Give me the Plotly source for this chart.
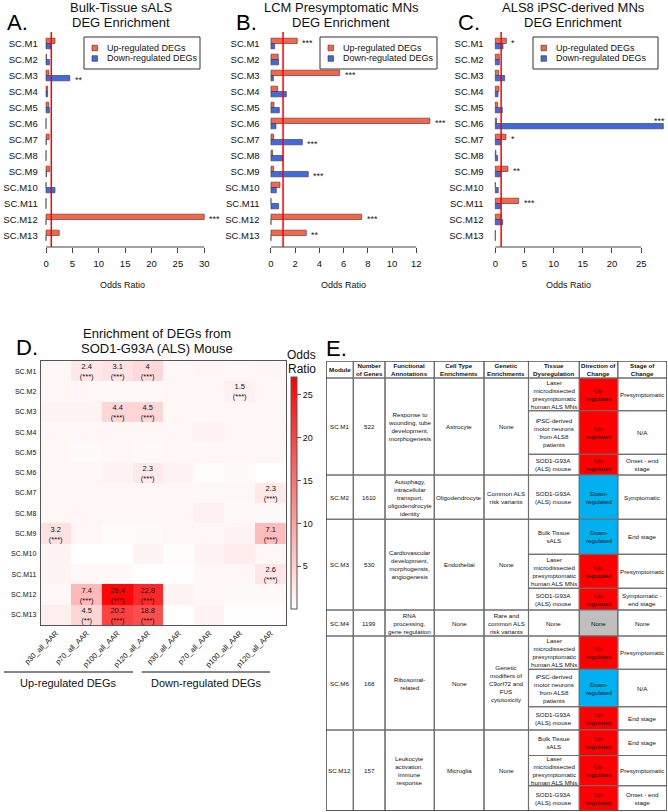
import plotly.graph_objects as go

W, H = 668, 812
FONT = "Liberation Sans, Arial, Helvetica, sans-serif"

# ---------------- data ----------------
modules = ["SC.M1", "SC.M2", "SC.M3", "SC.M4", "SC.M5", "SC.M6", "SC.M7",
           "SC.M8", "SC.M9", "SC.M10", "SC.M11", "SC.M12", "SC.M13"]

# A. Bulk-tissue sALS
bulk_up = [1.7, 0.1, 0.55, 0.3, 0.5, 0.0, 0.6, 0.0, 0.7, 0.0, 0.0, 30.0, 2.5]
bulk_down = [0.95, 0.65, 4.5, 0.3, 0.65, 0.0, 0.05, 0.0, 0.1, 1.7, 0.0, 0.0, 0.0]
bulk_up_sig = ["", "", "", "", "", "", "", "", "", "", "", "***", ""]
bulk_down_sig = ["", "", "**", "", "", "", "", "", "", "", "", "", ""]

# B. LCM presymptomatic MNs
lcm_up = [2.17, 0.6, 5.67, 0.55, 0.25, 13.13, 0.22, 0.14, 0.22, 0.74, 0.0, 7.49, 2.92]
lcm_down = [0.3, 0.63, 0.2, 1.27, 0.69, 0.41, 2.59, 0.99, 3.08, 0.44, 0.63, 0.0, 0.0]
lcm_up_sig = ["***", "", "***", "", "", "***", "", "", "", "", "", "***", "**"]
lcm_down_sig = ["", "", "", "", "", "", "***", "", "***", "", "", "", ""]

# C. ALS8 iPSC-derived MNs
ipsc_up = [1.89, 0.69, 0.57, 0.63, 0.4, 0.23, 1.83, 0.11, 2.17, 0.0, 4.0, 0.92, 0.0]
ipsc_down = [1.32, 0.69, 1.6, 0.46, 1.2, 28.8, 0.92, 0.4, 0.92, 0.51, 0.92, 1.26, 0.0]
ipsc_up_sig = ["*", "", "", "", "", "", "*", "", "**", "", "***", "", ""]
ipsc_down_sig = ["", "", "", "", "", "***", "", "", "", "", "", "", ""]

# D. SOD1-G93A mouse heatmap (4 up-regulated then 4 down-regulated DEG sets)
mouse_columns = ["p30_all_AAR", "p70_all_AAR", "p100_all_AAR", "p120_all_AAR",
                 "p30_all_AAR", "p70_all_AAR", "p100_all_AAR", "p120_all_AAR"]
mouse_odds = [
    [1.0, 2.4, 3.1, 4.0, 1.0, 1.1, 1.0, 1.1],
    [1.0, 0.9, 0.6, 0.7, 1.0, 1.0, 1.5, 1.0],
    [1.2, 1.2, 4.4, 4.5, 1.0, 1.0, 0.9, 1.0],
    [1.0, 0.8, 0.9, 0.9, 1.0, 1.3, 1.0, 1.0],
    [1.0, 0.5, 0.9, 0.6, 1.0, 1.0, 1.0, 1.0],
    [1.0, 1.0, 1.3, 2.3, 1.3, 0.3, 0.5, 0.1],
    [1.0, 1.0, 1.0, 1.0, 1.0, 0.9, 1.0, 2.3],
    [1.0, 0.9, 0.9, 1.0, 0.9, 1.5, 0.6, 0.5],
    [3.2, 1.0, 0.4, 0.5, 0.9, 0.9, 1.3, 7.1],
    [1.2, 0.0, 0.0, 1.2, 0.3, 1.3, 2.0, 1.0],
    [1.2, 0.7, 0.7, 0.2, 0.2, 1.0, 0.8, 2.6],
    [0.8, 7.4, 26.4, 22.8, 1.2, 0.8, 0.5, 0.6],
    [1.8, 4.5, 20.2, 18.8, 0.1, 1.3, 0.2, 0.2],
]
mouse_sig = [
    ["", "***", "***", "***", "", "", "", ""],
    ["", "", "", "", "", "", "***", ""],
    ["", "", "***", "***", "", "", "", ""],
    ["", "", "", "", "", "", "", ""],
    ["", "", "", "", "", "", "", ""],
    ["", "", "", "***", "", "", "", ""],
    ["", "", "", "", "", "", "", "***"],
    ["", "", "", "", "", "", "", ""],
    ["***", "", "", "", "", "", "", "***"],
    ["", "", "", "", "", "", "", ""],
    ["", "", "", "", "", "", "", "***"],
    ["", "***", "***", "***", "", "", "", ""],
    ["", "**", "***", "***", "", "", "", ""],
]

# E. summary table
tbl_header = ["Module", "Number<br>of Genes", "Functional<br>Annotations", "Cell Type<br>Enrichments",
              "Genetic<br>Enrichments", "Tissue<br>Dysregulation", "Direction of<br>Change", "Stage of<br>Change"]
tbl_module = ["SC.M1", "SC.M2", "SC.M3", "SC.M4", "SC.M6", "SC.M12"]
tbl_ngenes = ["522", "1610", "530", "1199", "168", "157"]
tbl_function = ["Response to<br>wounding, tube<br>development,<br>morphogenesis",
                "Autophagy,<br>intracellular<br>transport,<br>oligodendrocyte<br>identity",
                "Cardiovascular<br>development,<br>morphogensis,<br>angiogenesis",
                "RNA<br>processing,<br>gene regulation",
                "Ribosomal-<br>related",
                "Leukocyte<br>activation,<br>immune<br>response"]
tbl_celltype = ["Astrocyte", "Oligodendrocyte", "Endothelial", "None", "None", "Microglia"]
tbl_genetic = ["None", "Common ALS<br>risk variants", "None", "Rare and<br>common ALS<br>risk variants",
               "Genetic<br>modifiers of<br>C9orf72 and<br>FUS<br>cytotoxicity", "None"]
LCM = "Laser<br>microdissected<br>presymptomatic<br>human ALS MNs"
IPSC = "iPSC-derived<br>motor neurons<br>from ALS8<br>patients"
SOD = "SOD1-G93A<br>(ALS) mouse"
BULK = "Bulk Tissue<br>sALS"
tbl_tissue = [[LCM, IPSC, SOD], [SOD], [BULK, LCM, SOD], ["None"], [LCM, IPSC, SOD], [BULK, LCM, SOD]]
tbl_direction = [["Up", "Up", "Up"], ["Down"], ["Down", "Up", "Up"], ["None"],
                 ["Up", "Down", "Up"], ["Up", "Up", "Up"]]
tbl_stage = [["Presymptomatic", "N/A", "Onset - end<br>stage"], ["Symptomatic"],
             ["End stage", "Presymptomatic", "Symptomatic -<br>end stage"], ["None"],
             ["Presymptomatic", "N/A", "End stage"], ["End stage", "Presymptomatic", "Onset - end<br>stage"]]

# ---------------- styling / layout constants ----------------
UP_COLOR = "#FF6347"
DOWN_COLOR = "#4169E1"
DIR_FILL = {"Up": "#FF0000", "Down": "#00B0F0", "None": "#BFBFBF"}
DIR_TEXT = {"Up": "Up-<br>regulated", "Down": "Down-<br>regulated", "None": "None"}

tbl_col_w = [27.3, 31.7, 49.3, 49.7, 44.5, 50.8, 38.5, 49.2]
tbl_header_h = 17
tbl_sub_h = [[32.7, 43.6, 20.7], [44.3], [35, 34, 21.7], [26], [33.3, 37.4, 23.3], [25.5, 30.2, 25]]


def px(x):
    return x / W


def py(y):
    return 1 - y / H


def note(x, y, text, size, xanchor="center", color="#111111", **kw):
    return dict(x=px(x), y=py(y), xref="paper", yref="paper", text=text, showarrow=False,
                xanchor=xanchor, yanchor="middle", font=dict(size=size, color=color), **kw)


fig = go.Figure()
annotations = []
shapes = []
layout = {}

bar_panels = [
    dict(up=bulk_up, down=bulk_down, up_sig=bulk_up_sig, down_sig=bulk_down_sig,
         dom=(39.7, 210.6), rng=[-1.2, 31.2], ticks=[0, 5, 10, 15, 20, 25, 30],
         title=["Bulk-Tissue sALS", "DEG Enrichment"], tcx=121, letter="A.", lx=5,
         leg=(84, 37, 200, 69), standoff=1, xt=122),
    dict(up=lcm_up, down=lcm_down, up_sig=lcm_up_sig, down_sig=lcm_down_sig,
         dom=(264.6, 436.5), rng=[-0.526, 13.676], ticks=[0, 2, 4, 6, 8, 10, 12],
         title=["LCM Presymptomatic MNs", "DEG Enrichment"], tcx=341, letter="B.", lx=234,
         leg=(320, 37, 437, 69), standoff=4, xt=343),
    dict(up=ipsc_up, down=ipsc_down, up_sig=ipsc_up_sig, down_sig=ipsc_down_sig,
         dom=(488.6, 668), rng=[-1.15, 29.6], ticks=[0, 5, 10, 15, 20, 25],
         title=["ALS8 iPSC-derived MNs", "DEG Enrichment"], tcx=573, letter="C.", lx=456,
         leg=(533, 37, 658, 69), standoff=4, xt=568),
]

for i, p in enumerate(bar_panels, start=1):
    xr = "x" if i == 1 else f"x{i}"
    yr = "y" if i == 1 else f"y{i}"
    xk = "xaxis" if i == 1 else f"xaxis{i}"
    yk = "yaxis" if i == 1 else f"yaxis{i}"
    fig.add_trace(go.Bar(x=p["up"], y=modules, orientation="h", name="Up-regulated DEGs",
                         marker=dict(color=UP_COLOR, line=dict(color="#333333", width=0.6)),
                         xaxis=xr, yaxis=yr, showlegend=False))
    fig.add_trace(go.Bar(x=p["down"], y=modules, orientation="h", name="Down-regulated DEGs",
                         marker=dict(color=DOWN_COLOR, line=dict(color="#333333", width=0.6)),
                         xaxis=xr, yaxis=yr, showlegend=False))
    layout[xk] = dict(domain=[px(p["dom"][0]), px(p["dom"][1])], range=p["rng"],
                      tickmode="array", tickvals=p["ticks"], ticks="outside", ticklen=5,
                      tickcolor="#444444", showline=False, showgrid=False, zeroline=False,
                      tickfont=dict(size=9.5, color="#111111"), anchor=yr, fixedrange=True,
                      ticklabelstandoff=3, automargin=False)
    layout[yk] = dict(domain=[py(247), py(32)], type="category", categoryorder="array",
                      categoryarray=modules, range=[12.72, -0.72], showgrid=False,
                      zeroline=False, showline=False, ticks="", anchor=xr,
                      tickfont=dict(size=9.5, color="#111111"), fixedrange=True,
                      ticklabelstandoff=p["standoff"], automargin=False)
    # axis line between first and last tick
    shapes.append(dict(type="line", xref=xr, yref=f"{yr} domain", x0=p["ticks"][0],
                       x1=p["ticks"][-1], y0=0, y1=0, line=dict(color="#444444", width=1)))
    # reference line at odds ratio 1
    shapes.append(dict(type="line", xref=xr, yref=f"{yr} domain", x0=1, x1=1, y0=0, y1=1,
                       line=dict(color="#FF0000", width=1.5)))
    # significance stars (kept inside the figure when the bar reaches the edge)
    d0, d1 = p["dom"]
    r0, r1 = p["rng"]
    for j in range(len(modules)):
        for vals, sigs, off in ((p["up"], p["up_sig"], -1 / 6), (p["down"], p["down_sig"], 1 / 6)):
            if sigs[j]:
                end_px = d0 + (vals[j] - r0) / (r1 - r0) * (d1 - d0)
                fits = end_px + 16 < W
                annotations.append(dict(x=vals[j], y=j + off, xref=xr, yref=yr, text=sigs[j],
                                        showarrow=False, xanchor="left" if fits else "right",
                                        yanchor="middle", xshift=3 if fits else W - end_px - 1,
                                        yshift=-2 if fits else 5,
                                        font=dict(size=9, color="#222222")))
    annotations.append(note(p["xt"], 285, "Odds Ratio", 9))
    annotations.append(note(p["tcx"], 8, p["title"][0], 13))
    annotations.append(note(p["tcx"], 22.5, p["title"][1], 13))
    annotations.append(note(p["lx"], 22, p["letter"], 22, xanchor="left", color="#000000"))
    # legend box
    lx0, ly0, lx1, ly1 = p["leg"]
    shapes.append(dict(type="rect", xref="paper", yref="paper", x0=px(lx0), x1=px(lx1),
                       y0=py(ly1), y1=py(ly0), fillcolor="white",
                       line=dict(color="#333333", width=1), layer="above"))
    for k, (lab, col) in enumerate([("Up-regulated DEGs", UP_COLOR), ("Down-regulated DEGs", DOWN_COLOR)]):
        cy = ly0 + 11 + 10.5 * k
        shapes.append(dict(type="rect", xref="paper", yref="paper", x0=px(lx0 + 8), x1=px(lx0 + 13.5),
                           y0=py(cy + 2.8), y1=py(cy - 2.8), fillcolor=col,
                           line=dict(color="#333333", width=0.6), layer="above"))
        annotations.append(note(lx0 + 21, cy, lab, 9, xanchor="left"))

# ---------------- D. heatmap ----------------
cell_text = []
for r in range(len(modules)):
    row = []
    for c in range(len(mouse_columns)):
        s = mouse_sig[r][c]
        row.append(f"{mouse_odds[r][c]:g}<br>({s})" if s else "")
    cell_text.append(row)

fig.add_trace(go.Heatmap(
    z=mouse_odds, x=list(range(len(mouse_columns))), y=modules, text=cell_text,
    texttemplate="%{text}", textfont=dict(size=7.5, color="#111111"),
    colorscale=[[0, "#FFFFFF"], [1, "#FF0000"]], zmin=0, zmax=27.1,
    xaxis="x4", yaxis="y4",
    colorbar=dict(x=px(291), xanchor="left", xpad=0, y=py(493), yanchor="middle", ypad=0,
                  len=232, lenmode="pixels", thickness=6, thicknessmode="pixels",
                  outlinecolor="#555555", outlinewidth=1, tickvals=[5, 10, 15, 20, 25],
                  ticks="outside", ticklen=4, tickcolor="#555555",
                  tickfont=dict(size=9, color="#111111")),
))
layout["xaxis4"] = dict(domain=[px(40.7), px(286)], range=[-0.5, 7.5], tickmode="array",
                        tickvals=list(range(len(mouse_columns))), ticktext=mouse_columns,
                        tickangle=-45, showline=True, mirror=True, linecolor="#555555",
                        ticks="", showgrid=False, zeroline=False, anchor="y4",
                        tickfont=dict(size=7.5, color="#111111"), fixedrange=True,
                        automargin=False)
layout["yaxis4"] = dict(domain=[py(625), py(361)], type="category", categoryorder="array",
                        categoryarray=modules, autorange="reversed", showline=True, mirror=True,
                        linecolor="#555555", ticks="", showgrid=False, zeroline=False,
                        anchor="x4", tickfont=dict(size=7, color="#111111"), fixedrange=True,
                        ticklabelstandoff=2, automargin=False)
annotations += [
    note(157, 333, "Enrichment of DEGs from", 13),
    note(157, 348, "SOD1-G93A (ALS) Mouse", 13),
    note(14, 347, "D.", 22, xanchor="left", color="#000000"),
    note(301, 355, "Odds", 12),
    note(302, 369, "Ratio", 12),
    note(68, 683, "Up-regulated DEGs", 11),
    note(206, 683, "Down-regulated DEGs", 11),
]
shapes += [
    dict(type="line", xref="paper", yref="paper", x0=px(4), x1=px(133), y0=py(672), y1=py(672),
         line=dict(color="#111111", width=1.2)),
    dict(type="line", xref="paper", yref="paper", x0=px(141.7), x1=px(270), y0=py(672), y1=py(672),
         line=dict(color="#111111", width=1.2)),
]

# ---------------- E. table ----------------
col_edges = [0]
for w in tbl_col_w:
    col_edges.append(col_edges[-1] + w)
tbl_h = tbl_header_h + sum(sum(s) for s in tbl_sub_h)
fig.add_trace(go.Scatter(x=[], y=[], xaxis="x5", yaxis="y5", showlegend=False))
layout["xaxis5"] = dict(domain=[px(326), px(667)], range=[0, col_edges[-1]], visible=False,
                        anchor="y5", fixedrange=True, automargin=False)
layout["yaxis5"] = dict(domain=[py(810.7), py(361)], range=[tbl_h, 0], visible=False,
                        anchor="x5", fixedrange=True, automargin=False)
LINE = dict(color="#6e6e6e", width=1.1)
TF = dict(size=6.2, color="#111111")


def cell(c0, c1, y0, y1, text, fill=None, bold=False):
    shapes.append(dict(type="rect", xref="x5", yref="y5", x0=col_edges[c0], x1=col_edges[c1],
                       y0=y0, y1=y1, line=LINE, fillcolor=fill if fill else "rgba(0,0,0,0)",
                       layer="below" if fill else "above"))
    annotations.append(dict(x=(col_edges[c0] + col_edges[c1]) / 2, y=(y0 + y1) / 2,
                            xref="x5", yref="y5", text=f"<b>{text}</b>" if bold else text,
                            showarrow=False, font=TF, align="center",
                            xanchor="center", yanchor="middle"))


for c, h in enumerate(tbl_header):
    cell(c, c + 1, 0, tbl_header_h, h, bold=True)

y = tbl_header_h
for m in range(len(tbl_module)):
    mh = sum(tbl_sub_h[m])
    for c, txt in enumerate([tbl_module[m], tbl_ngenes[m], tbl_function[m],
                             tbl_celltype[m], tbl_genetic[m]]):
        cell(c, c + 1, y, y + mh, txt)
    ys = y
    for s, sh in enumerate(tbl_sub_h[m]):
        d = tbl_direction[m][s]
        cell(5, 6, ys, ys + sh, tbl_tissue[m][s])
        cell(6, 7, ys, ys + sh, DIR_TEXT[d], fill=DIR_FILL[d])
        cell(7, 8, ys, ys + sh, tbl_stage[m][s])
        ys += sh
    y += mh

shapes.append(dict(type="rect", xref="x5", yref="y5", x0=0, x1=col_edges[-1], y0=0, y1=tbl_h,
                   line=dict(color="#404040", width=1.2)))
annotations.append(note(324, 348, "E.", 22, xanchor="left", color="#000000"))

fig.update_layout(
    width=W, height=H, margin=dict(l=0, r=0, t=0, b=0, autoexpand=False),
    paper_bgcolor="white", plot_bgcolor="rgba(0,0,0,0)",
    font=dict(family=FONT, color="#111111"),
    barmode="group", bargap=1 / 3, bargroupgap=0,
    showlegend=False, annotations=annotations, shapes=shapes, **layout,
)
fig.write_html("out.html", config={"displayModeBar": False},
               post_script="document.body.style.margin='0px';")
